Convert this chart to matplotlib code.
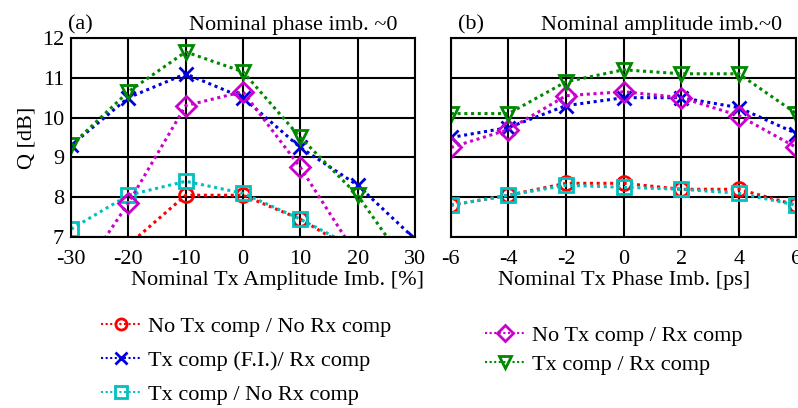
import matplotlib.pyplot as plt
from matplotlib.lines import Line2D

plt.rcParams['font.family'] = ['Liberation Serif', 'DejaVu Serif']
plt.rcParams['axes.unicode_minus'] = False

fz = 16

# panel (a): nominal Tx amplitude imbalance [%]
amp_x = [-30, -20, -10, 0, 10, 20, 30]
amp_no_tx_no_rx = [None, 6.8, 8.05, 8.05, 7.45, 6.6, None]
amp_tx_fi_rx = [9.3, 10.5, 11.1, 10.5, 9.25, 8.3, 6.95]
amp_tx_no_rx = [7.2, 8.05, 8.4, 8.1, 7.45, 6.7, None]
amp_no_tx_rx = [5.7, 7.85, 10.3, 10.65, 8.75, 6.5, None]
amp_tx_rx = [9.3, 10.65, 11.65, 11.15, 9.5, 8.05, 6.0]

# panel (b): nominal Tx phase imbalance [ps]
ph_x = [-6, -4, -2, 0, 2, 4, 6]
ph_no_tx_no_rx = [7.8, 8.05, 8.35, 8.35, 8.2, 8.2, 7.8]
ph_tx_fi_rx = [9.5, 9.75, 10.3, 10.5, 10.5, 10.25, 9.6]
ph_tx_no_rx = [7.8, 8.05, 8.3, 8.25, 8.2, 8.1, 7.8]
ph_no_tx_rx = [9.25, 9.7, 10.55, 10.65, 10.5, 10.05, 9.25]
ph_tx_rx = [10.1, 10.1, 10.9, 11.2, 11.1, 11.1, 10.1]

labels = ["No Tx comp / No Rx comp", "Tx comp (F.I.)/ Rx comp", "Tx comp / No Rx comp",
          "No Tx comp / Rx comp", "Tx comp / Rx comp"]
styles = [dict(color='#ff0000', marker='o', mfc='none'),
          dict(color='#0000dd', marker='x'),
          dict(color='#00c0c0', marker='s', mfc='none'),
          dict(color='#cc00cc', marker='D', mfc='none'),
          dict(color='#008800', marker='v', mfc='none')]


def draw(ax, x, series):
    for y, st in zip(series, styles):
        xs = [a for a, b in zip(x, y) if b is not None]
        ys = [b for b in y if b is not None]
        ax.plot(xs, ys, linestyle=(0, (1, 1.2)), linewidth=2.2, markersize=10,
                markeredgewidth=2, **st)
    ax.set_ylim(7, 12)
    ax.grid(True, color='k', linewidth=1.5)
    ax.tick_params(length=0, labelsize=fz, pad=5)
    ax.tick_params(axis='x', pad=9)
    for s in ax.spines.values():
        s.set_linewidth(1.5)


fig = plt.figure(figsize=(7.98, 4.08), dpi=100)
ax1 = fig.add_axes([0.089, 0.419, 0.431, 0.488])
ax2 = fig.add_axes([0.565, 0.419, 0.433, 0.488])

draw(ax1, amp_x, [amp_no_tx_no_rx, amp_tx_fi_rx, amp_tx_no_rx, amp_no_tx_rx, amp_tx_rx])
ax1.set_xlim(-30, 30)
ax1.set_xticks(amp_x)
ax1.set_yticks([7, 8, 9, 10, 11, 12])
ax1.set_ylabel('Q [dB]', fontsize=fz, labelpad=4)
ax1.set_xlabel('Nominal Tx Amplitude Imb. [%]', fontsize=fz, labelpad=2, x=0.6)
ax1.text(-30.5, 12.08, '(a)', fontsize=fz, va='bottom')
ax1.text(27, 12.08, 'Nominal phase imb. ~0', fontsize=fz, va='bottom', ha='right')

draw(ax2, ph_x, [ph_no_tx_no_rx, ph_tx_fi_rx, ph_tx_no_rx, ph_no_tx_rx, ph_tx_rx])
ax2.set_xlim(-6, 6)
ax2.set_xticks(ph_x)
ax2.set_yticks([7, 8, 9, 10, 11, 12])
ax2.set_yticklabels([])
ax2.set_xlabel('Nominal Tx Phase Imb. [ps]', fontsize=fz, labelpad=2)
ax2.text(-5.75, 12.08, '(b)', fontsize=fz, va='bottom')
ax2.text(5.5, 12.08, 'Nominal amplitude imb.~0', fontsize=fz, va='bottom', ha='right')

handles = [Line2D([], [], linestyle=(0, (1, 1.2)), linewidth=1.5, markersize=8,
                  markeredgewidth=2, **st) for st in styles]
fig.legend(handles[:3], labels[:3], loc='upper left', bbox_to_anchor=(0.113, 0.252),
           frameon=False, fontsize=fz, handlelength=1.8, handletextpad=0.3,
           labelspacing=0.6, borderpad=0)
fig.legend(handles[3:], labels[3:], loc='upper left', bbox_to_anchor=(0.594, 0.23),
           frameon=False, fontsize=fz, handlelength=1.8, handletextpad=0.3,
           labelspacing=0.4, borderpad=0)

fig.savefig('out.png', dpi=100)
